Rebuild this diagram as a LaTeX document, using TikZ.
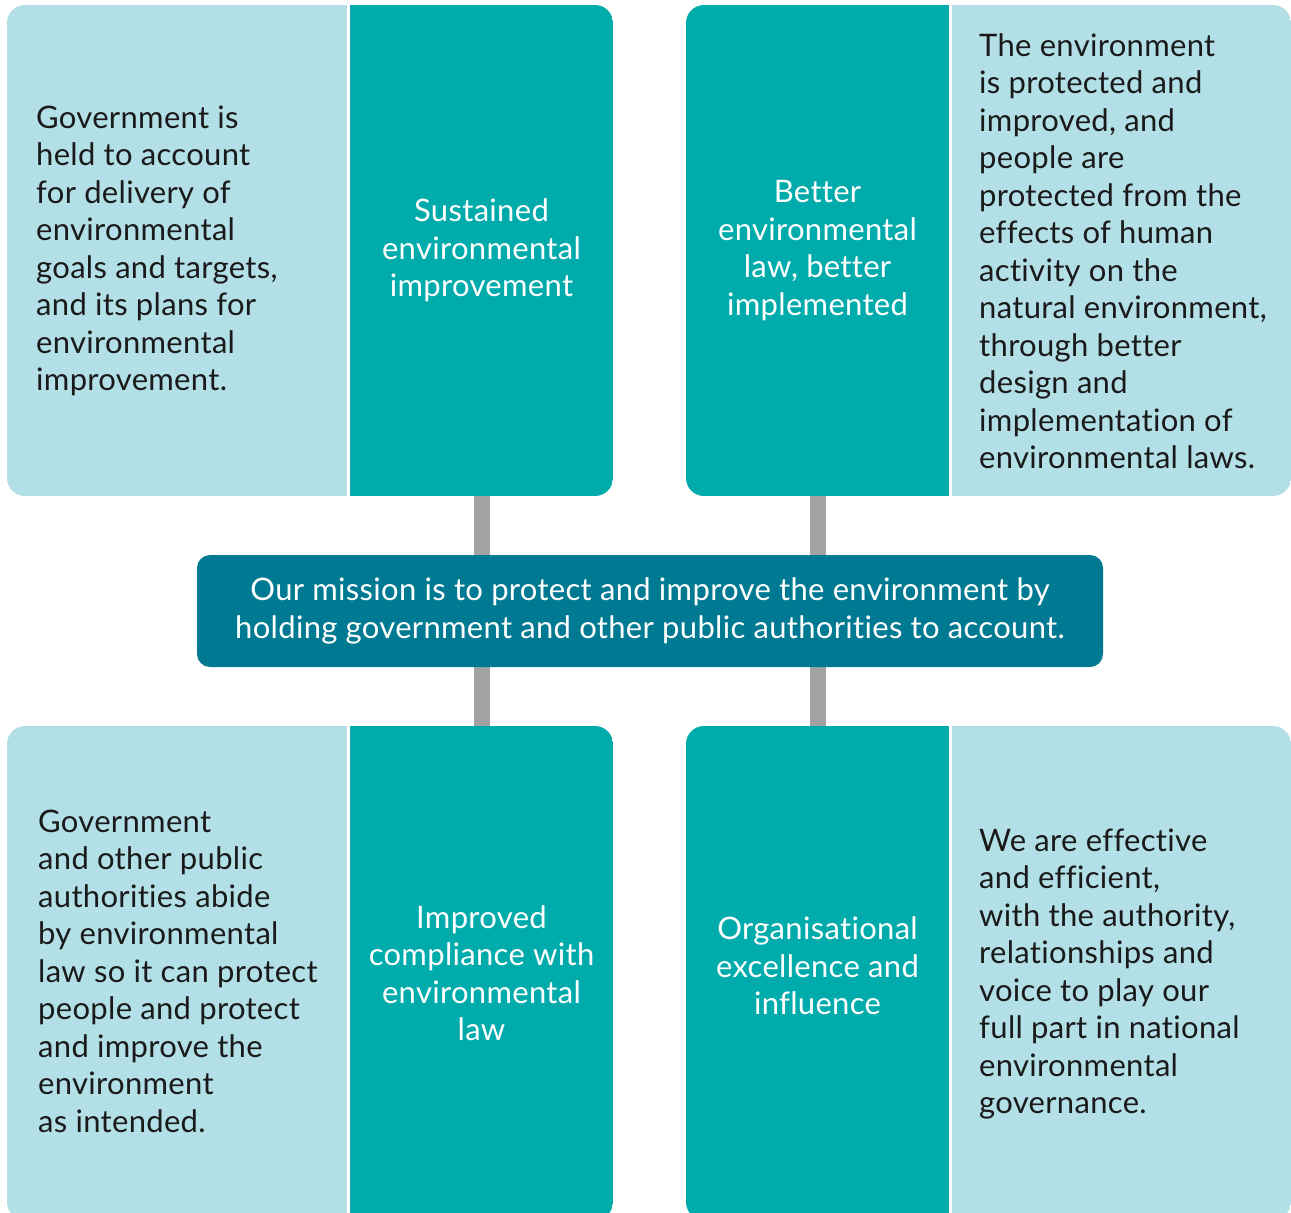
\documentclass[tikz,border=0pt]{standalone}
\usepackage{fontspec}
\setmainfont{Lato}[Ligatures=NoCommon, LetterSpace=1]
\usetikzlibrary{backgrounds}
\definecolor{lightp}{HTML}{B3DFE7}
\definecolor{tealp}{HTML}{00ABAC}
\definecolor{darkp}{HTML}{007A92}
\definecolor{connc}{HTML}{A0A2A4}
\definecolor{inkc}{HTML}{1A1A1A}
\begin{document}
\begin{tikzpicture}[x=1pt,y=-1pt,
  every node/.style={inner sep=0pt, font=\fontsize{31}{37.5}\selectfont},
  lighttext/.style={anchor=west, align=left, text=inkc},
  tealbox/.style={minimum width=263pt, minimum height=491pt, align=center, text=white},
  missionbox/.style={fill=darkp, rounded corners=13pt, minimum width=906pt, minimum height=112pt, align=center, text=white},
  conn/.style={draw=connc, line width=16pt}]
\useasboundingbox (0,0) rectangle (1291,1213);
% texts and boxes
\node[lighttext] (l1) at (36,251) {Government is\\held to account\\for delivery of\\environmental\\goals and targets,\\and its plans for\\environmental\\improvement.};
\node[tealbox] (t1) at (481.5,250.5) {Sustained\\environmental\\improvement};
\node[tealbox] (t2) at (817.5,250.5) {Better\\environmental\\law, better\\implemented};
\node[lighttext] (l2) at (979,251) {The environment\\is protected and\\improved, and\\people are\\protected from the\\effects of human\\activity on the\\natural environment,\\through better\\design and\\implementation of\\environmental laws.};
\node[lighttext] (l3) at (38,971) {Government\\and other public\\authorities abide\\by environmental\\law so it can protect\\people and protect\\and improve the\\environment\\as intended.};
\node[tealbox, minimum height=494pt] (t3) at (481.5,973) {Improved\\compliance with\\environmental\\law};
\node[tealbox, minimum height=480pt] (t4) at (817.5,966) {Organisational\\excellence and\\influence};
\node[lighttext] (l4) at (979,974) {We are effective\\and efficient,\\with the authority,\\relationships and\\voice to play our\\full part in national\\environmental\\governance.};
\begin{scope}[on background layer]
  \begin{scope}
    \clip[rounded corners=18pt] (7,5) rectangle (613,496);
    \fill[lightp] (7,5) rectangle (347,496);
    \fill[tealp] (350,5) rectangle (613,496);
  \end{scope}
  \begin{scope}
    \clip[rounded corners=18pt] (686,5) rectangle (1291,496);
    \fill[tealp] (686,5) rectangle (949,496);
    \fill[lightp] (952,5) rectangle (1291,496);
  \end{scope}
  \begin{scope}
    \clip[rounded corners=18pt] (7,726) rectangle (613,1220);
    \fill[lightp] (7,726) rectangle (347,1220);
    \fill[tealp] (350,726) rectangle (613,1220);
  \end{scope}
  \begin{scope}
    \clip[rounded corners=18pt] (686,726) rectangle (1291,1220);
    \fill[tealp] (686,726) rectangle (949,1220);
    \fill[lightp] (952,726) rectangle (1291,1220);
  \end{scope}
\end{scope}
\node[missionbox] (m) at (650,611) {Our mission is to protect and improve the environment by\\holding government and other public authorities to account.};
\begin{scope}[on background layer]
  \draw[conn] (t1.south) -- (t1.south |- m.north);
  \draw[conn] (t2.south) -- (t2.south |- m.north);
  \draw[conn] (t3.north) -- (t3.north |- m.south);
  \draw[conn] (t4.north) -- (t4.north |- m.south);
\end{scope}
\end{tikzpicture}
\end{document}
